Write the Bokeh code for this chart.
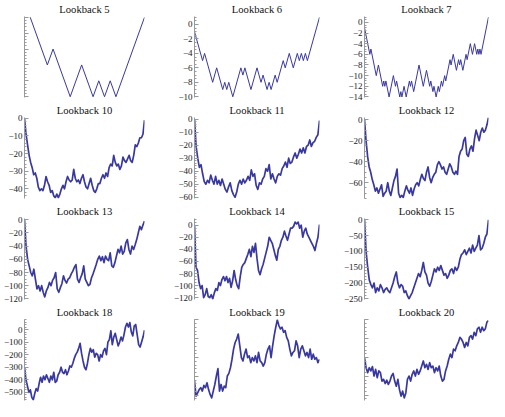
from bokeh.plotting import figure
from bokeh.layouts import gridplot
from bokeh.models import Range1d, SingleIntervalTicker, CustomJSTickFormatter
from bokeh.embed import file_html
from bokeh.resources import INLINE

# ---- data ----
titles = ["Lookback 5", "Lookback 6", "Lookback 7",
          "Lookback 10", "Lookback 11", "Lookback 12",
          "Lookback 13", "Lookback 14", "Lookback 15",
          "Lookback 18", "Lookback 19", "Lookback 20"]

# unit-step walks, given by their turning points
lb5_turns = [0, -3, -2, -5, -3, -5, -4, -5, -4, -5, 0]
lb6_turns = [-1, -5, -4, -8, -6, -9, -8, -9, -8, -10, -6, -7, -6, -9, -6, -8, -7,
             -9, -8, -9, -7, -8, -5, -6, -4, -6, -4, -5, -4, -5, -4, -5, 1]
lb7_turns = [-1, -6, -5, -10, -8, -12, -11, -12, -11, -14, -10, -12, -11, -14, -13,
             -14, -12, -14, -11, -12, -11, -13, -8, -12, -9, -12, -11, -13, -12, -14,
             -12, -13, -11, -12, -10, -11, -7, -8, -6, -9, -7, -8, -7, -9, -6, -7, -4,
             -6, -4, -6, -5, -6, -5, -6, 1]

# dense walks, sampled at even spacing
lb10 = [0, -9, -15, -21, -25, -28, -32, -31, -34, -39, -41, -40, -41, -38, -33, -36,
        -38, -42, -41, -44, -45, -43, -45, -43, -40, -38, -40, -36, -33, -35, -36, -35,
        -29, -34, -36, -35, -37, -34, -32, -36, -39, -40, -37, -34, -38, -41, -42, -40,
        -37, -37, -34, -32, -34, -31, -33, -28, -26, -27, -21, -25, -27, -26, -29, -27,
        -22, -24, -25, -23, -21, -24, -25, -21, -15, -16, -14, -11, -11, -9, -1]
lb11 = [0, -21, -30, -37, -35, -42, -48, -50, -47, -49, -43, -47, -50, -44, -50, -47,
        -51, -46, -50, -54, -56, -52, -49, -55, -58, -60, -56, -50, -47, -50, -46, -49,
        -47, -44, -47, -39, -44, -42, -51, -54, -49, -50, -46, -44, -38, -40, -35, -46,
        -42, -46, -49, -44, -42, -43, -38, -36, -33, -37, -30, -34, -33, -29, -26, -30,
        -27, -23, -26, -22, -26, -21, -20, -16, -21, -18, -17, -14, -12, -1]
lb12 = [0, -20, -35, -45, -50, -57, -62, -68, -65, -70, -66, -62, -73, -70, -68, -60,
        -68, -72, -65, -58, -54, -47, -70, -74, -72, -74, -68, -63, -67, -70, -65, -72,
        -66, -62, -60, -63, -57, -52, -56, -58, -50, -45, -55, -60, -55, -52, -50, -43,
        -40, -43, -47, -45, -50, -52, -47, -42, -45, -50, -52, -49, -52, -35, -30, -28,
        -20, -17, -33, -35, -28, -25, -30, -18, -10, -15, -20, -12, -8, -12, -10, -5, 2]
lb13 = [0, -40, -60, -70, -80, -85, -75, -90, -105, -100, -108, -100, -110, -117, -108,
        -103, -95, -100, -92, -88, -80, -105, -110, -103, -97, -85, -92, -96, -90, -88,
        -82, -78, -72, -68, -90, -95, -88, -82, -70, -90, -95, -100, -98, -88, -82, -75,
        -68, -60, -55, -62, -56, -65, -55, -60, -62, -50, -70, -72, -65, -55, -45, -50,
        -40, -52, -48, -35, -30, -45, -52, -40, -45, -38, -30, -20, -10, -15, -8, -2]
lb14 = [0, -70, -75, -95, -105, -100, -120, -115, -105, -118, -120, -115, -122, -112,
        -105, -108, -95, -100, -90, -85, -92, -85, -95, -88, -103, -92, -75, -90, -100,
        -105, -85, -70, -65, -62, -55, -48, -40, -52, -35, -45, -30, -55, -75, -82, -72,
        -65, -55, -45, -35, -20, -25, -30, -40, -50, -58, -40, -35, -25, -20, -10, -18,
        -25, -15, -5, -5, -2, 5, 2, 5, -5, 0, -20, -10, -5, -15, -20, -25, -30, -35, -42,
        -30, -20, 1]
lb15 = [0, -100, -150, -190, -205, -215, -200, -230, -215, -225, -205, -215, -230, -220,
        -215, -225, -230, -215, -200, -180, -165, -200, -215, -205, -210, -230, -225,
        -240, -250, -240, -230, -215, -200, -185, -170, -180, -160, -135, -165, -175,
        -200, -210, -195, -175, -155, -165, -150, -160, -145, -160, -175, -170, -185,
        -175, -160, -155, -170, -150, -160, -150, -125, -110, -105, -95, -110, -100, -90,
        -105, -80, -100, -90, -80, -50, -95, -90, -75, -55, -45, 0]
lb18 = [-300, -400, -450, -500, -480, -540, -560, -510, -470, -490, -430, -380, -420,
        -370, -400, -360, -390, -420, -370, -400, -340, -420, -410, -360, -340, -300,
        -340, -350, -320, -360, -330, -290, -300, -270, -230, -200, -180, -150, -110,
        -190, -250, -300, -320, -270, -200, -150, -180, -160, -220, -190, -200, -250,
        -200, -220, -170, -150, -200, -100, -80, -10, -120, -60, -30, -80, -130, -100,
        -60, -90, -40, 20, 50, 20, 55, -20, -50, 30, 40, -40, -120, -140, -100, -60, -5]
lb19 = [-125, -205, -188, -170, -160, -178, -148, -160, -134, -170, -196, -214, -178,
        -143, -98, -59, -178, -143, -178, -152, -160, -98, -84, -54, -9, 45, 80, 98, 125,
        62, 0, -18, 18, 45, 0, 9, -27, 0, -18, 9, -27, 27, -18, -27, -45, -27, 18, 45,
        62, 0, 62, 116, 161, 200, 170, 152, 161, 134, 143, 107, 89, 45, 9, 27, 36, 89,
        62, 0, 45, 62, 36, 9, 27, 0, 45, -9, 18, -9, 0, -27, -9]
lb20 = [0, -54, -80, -54, -71, -48, -98, -63, -107, -71, -80, -125, -116, -138, -120,
        -143, -125, -98, -84, -125, -152, -116, -170, -205, -178, -214, -188, -116, -98,
        -125, -89, -71, -98, -63, -89, -71, -45, -18, -54, -36, -63, -27, -54, -45, -80,
        -54, -71, -45, -98, -125, -116, -71, -45, -9, 18, 0, 45, 36, 62, 80, 107, 98,
        80, 54, 80, 62, 107, 116, 98, 134, 116, 152, 161, 134, 161, 143, 152, 188, 196]

# ---- styles / layout ----
LINE = "#3838a4"
FONT = "Liberation Serif"
col_w = [170, 170, 149]
H = 101


def turns_xy(turns, start):
    xs = [start]
    for a, b in zip(turns, turns[1:]):
        xs.append(xs[-1] + abs(b - a))
    return xs, turns


def dense_xy(vals):
    return list(range(len(vals))), vals


series = [turns_xy(lb5_turns, 1), turns_xy(lb6_turns, 0), turns_xy(lb7_turns, 0),
          dense_xy(lb10), dense_xy(lb11), dense_xy(lb12),
          dense_xy(lb13), dense_xy(lb14), dense_xy(lb15),
          dense_xy(lb18), dense_xy(lb19), dense_xy(lb20)]

# (y range, major interval, minor count, show labels, left border, right border, line width)
cfg = [((-5.05, 0.05), 1, 5, False, 18, 26, 1.0),
       ((-10.1, 1.1), 2, 4, True, 19, 21, 1.0),
       ((-14.1, 1.1), 2, 4, True, 18, 1, 1.0),
       ((-45.5, 0.5), 10, 5, True, 18, 21, 1.7),
       ((-61, 1.3), 10, 5, True, 20, 21, 1.7),
       ((-75, 2), 20, 4, True, 18, 1, 1.7),
       ((-121, 2), 20, 4, True, 24, 22, 1.7),
       ((-123, 11), 20, 4, True, 21, 17, 1.7),
       ((-252, 4), 50, 5, True, 22, 1, 1.7),
       ((-565, 80), 100, 5, True, 21, 17, 1.7),
       ((-228, 202), 100, 5, False, 21, 18, 1.7),
       ((-228, 202), 100, 5, False, 23, 0, 1.7)]

label_fmt = CustomJSTickFormatter(code="return tick.toString().replace('-', '\u2212');")
blank_fmt = CustomJSTickFormatter(code="return '';")

figs = []
for i, (title, (xs, ys), c) in enumerate(zip(titles, series, cfg)):
    yr, interval, minor, show, lb, rb, lw = c
    p = figure(width=col_w[i % 3], height=H, title=title,
               x_range=Range1d(0, xs[-1]), y_range=Range1d(*yr),
               x_axis_location=None, toolbar_location=None, output_backend="svg",
               min_border_left=lb, min_border_right=rb, min_border_top=2,
               min_border_bottom=4)
    p.outline_line_color = None
    p.grid.visible = False
    p.background_fill_color = "white"
    p.border_fill_color = "white"
    p.title.align = "center"
    p.title.text_font = FONT
    p.title.text_font_size = "10.6px"
    p.title.text_font_style = "normal"
    p.title.text_color = "#111111"
    p.title.standoff = 3
    ax = p.yaxis[0]
    ax.ticker = SingleIntervalTicker(interval=interval, num_minor_ticks=minor)
    ax.formatter = label_fmt if show else blank_fmt
    ax.axis_line_color = "#999999"
    ax.major_tick_line_color = "#999999"
    ax.minor_tick_line_color = "#999999"
    ax.major_tick_in = 4
    ax.major_tick_out = 0
    ax.minor_tick_in = 2
    ax.minor_tick_out = 0
    ax.major_label_standoff = 2
    ax.major_label_text_font = FONT
    ax.major_label_text_font_size = "9px"
    ax.major_label_text_color = "#222222"
    p.line(xs, ys, line_color=LINE, line_width=lw, line_join="round")
    figs.append(p)

grid = gridplot([figs[0:3], figs[3:6], figs[6:9], figs[9:12]], toolbar_location=None)

open("out.html", "w").write(file_html(grid, INLINE))
